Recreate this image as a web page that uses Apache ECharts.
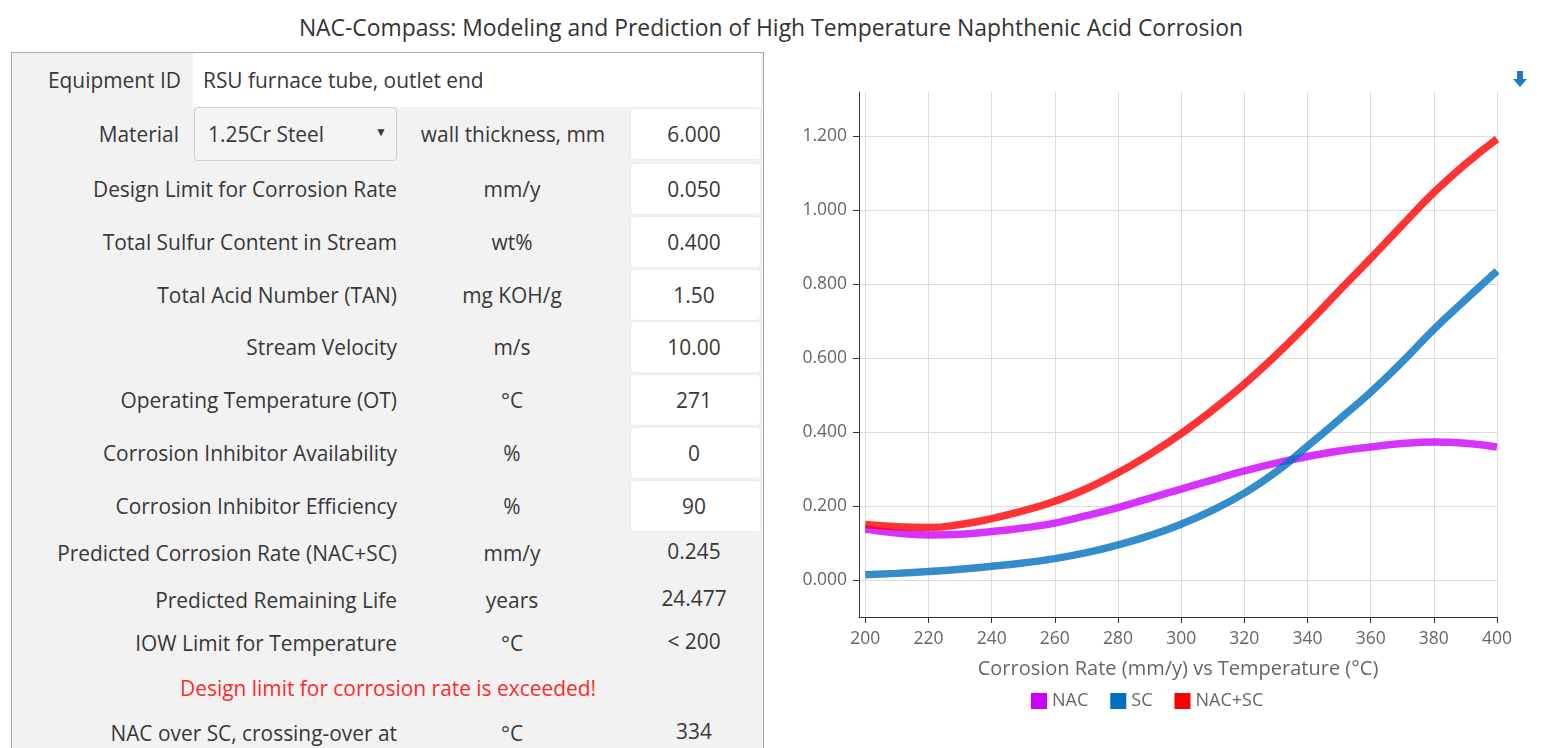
<!DOCTYPE html>
<html>
<head>
<meta charset="utf-8">
<script src="https://cdn.jsdelivr.net/npm/echarts@6/dist/echarts.min.js"></script>
<style>
  html, body { margin:0; padding:0; background:#fff; width:1542px; height:748px; overflow:hidden; }
  body { font-family: "Open Sans", "Noto Sans", sans-serif; color:#333; position:relative; }
  #title { position:absolute; left:0; width:1542px; top:13px; text-align:center; font-size:22.9px; line-height:30px; color:#333; }
  #panel { position:absolute; left:11px; top:52px; width:751px; height:700px; background:#f2f2f2; border:1px solid #a9a9a9; border-bottom:none; }
  .t { position:absolute; font-size:20.9px; white-space:nowrap; line-height:28px; transform:translateY(-50%); color:#383838; }
  .r { transform:translate(-100%,-50%); }
  .c { transform:translate(-50%,-50%); }
  .box { position:absolute; background:#fff; border:1px solid #ececec; border-radius:4px; box-sizing:border-box; }
  .sel { position:absolute; background:#f4f4f4; border:1px solid #cfcfcf; border-radius:4px; box-sizing:border-box; }
  #chart { position:absolute; left:764px; top:52px; width:778px; height:696px; }
</style>
</head>
<body>
<div id="title">NAC-Compass: Modeling and Prediction of High Temperature Naphthenic Acid Corrosion</div>
<div id="panel"></div>
<div id="form"></div>
<div id="chart"></div>
<script>
// ---- chart data ----
const temps = [200,210,220,230,240,250,260,270,280,290,300,310,320,330,340,350,360,370,380,390,400];
const nac   = [0.138,0.127,0.122,0.124,0.131,0.141,0.154,0.174,0.196,0.221,0.246,0.271,0.295,0.316,0.334,0.349,0.360,0.369,0.373,0.370,0.360];
const sc    = [0.014,0.018,0.023,0.029,0.037,0.046,0.058,0.074,0.095,0.120,0.151,0.189,0.235,0.292,0.362,0.434,0.508,0.590,0.678,0.758,0.836];
const nacsc = [0.150,0.144,0.142,0.150,0.166,0.187,0.213,0.247,0.290,0.340,0.396,0.460,0.530,0.608,0.693,0.782,0.870,0.960,1.048,1.125,1.193];
const seriesNames = ['NAC','SC','NAC+SC'];
const xTicks = [200,220,240,260,280,300,320,340,360,380,400];
const yTicks = [0,0.2,0.4,0.6,0.8,1.0,1.2];
const xAxisTitle = 'Corrosion Rate (mm/y) vs Temperature (°C)';

// ---- form content ----
const inputRows = [
  ['Design Limit for Corrosion Rate','mm/y','0.050'],
  ['Total Sulfur Content in Stream','wt%','0.400'],
  ['Total Acid Number (TAN)','mg KOH/g','1.50'],
  ['Stream Velocity','m/s','10.00'],
  ['Operating Temperature (OT)','°C','271'],
  ['Corrosion Inhibitor Availability','%','0'],
  ['Corrosion Inhibitor Efficiency','%','90']
];
const outputRows = [
  ['Predicted Corrosion Rate (NAC+SC)','mm/y','0.245',553],
  ['Predicted Remaining Life','years','24.477',600],
  ['IOW Limit for Temperature','°C','< 200',643],
  ['NAC over SC, crossing-over at','°C','334',733]
];

const form = document.getElementById('form');
function el(cls, x, y, text, style) {
  const d = document.createElement('div');
  d.className = cls;
  d.style.left = x + 'px'; d.style.top = y + 'px';
  if (text !== undefined) d.textContent = text;
  if (style) Object.assign(d.style, style);
  form.appendChild(d);
  return d;
}
// Equipment ID row
el('box', 193, 53, undefined, {width:'568px', height:'54px', border:'none', borderRadius:'0'});
el('t r', 181, 80, 'Equipment ID');
el('t', 203, 80, 'RSU furnace tube, outlet end');
// Material row
el('t r', 179, 134, 'Material');
el('sel', 194, 107, undefined, {width:'203px', height:'54px'});
el('t', 208, 134, '1.25Cr Steel');
el('t c', 381, 132, '▼', {fontSize:'12px'});
el('t c', 513, 134, 'wall thickness, mm');
el('box', 630, 108, undefined, {width:'131px', height:'52px'});
el('t c', 694, 134, '6.000');
// input rows
inputRows.forEach((r, i) => {
  const cy = 189 + i * 52.8;
  el('box', 630, cy - 26, undefined, {width:'131px', height:'52px'});
  el('t r', 397, cy, r[0]);
  el('t c', 512, cy, r[1]);
  el('t c', 694, cy, r[2]);
});
outputRows.forEach(r => {
  el('t r', 397, r[3], r[0]);
  el('t c', 512, r[3], r[1]);
  el('t c', 694, r[3] - 2, r[2]);
});
el('t c', 388, 688, 'Design limit for corrosion rate is exceeded!', {color:'#ff2a2a'});

// ---- chart ----
const chart = echarts.init(document.getElementById('chart'));
const colors = ['#cc00ff','#0070c0','#ff0000'];
const dataSets = [nac, sc, nacsc];
chart.setOption({
  animation: false,
  textStyle: { fontFamily: '"Open Sans", "Noto Sans", sans-serif' },
  grid: { left: 95, right: 45, top: 40, bottom: 131 },
  toolbox: {
    right: 0, top: 4, itemSize: 16,
    feature: { saveAsImage: { title: 'Download', icon: 'path://M4,0 L10,0 L10,8 L14,8 L7,16 L0,8 L4,8 Z' } },
    iconStyle: { color: '#2b78c2', borderColor: '#2b78c2', borderWidth: 0 }
  },
  legend: {
    left: 262, top: 635, itemWidth: 16, itemHeight: 16, itemGap: 22, icon: 'rect',
    textStyle: { fontSize: 18, color: '#666' },
    data: seriesNames
  },
  xAxis: {
    type: 'value', min: 198, max: 400,
    name: xAxisTitle, nameLocation: 'middle', nameGap: 42,
    nameTextStyle: { fontSize: 20, color: '#666' },
    axisLine: { show: true, onZero: false, lineStyle: { color: '#333' } },
    axisTick: { show: true, length: 6, customValues: xTicks, lineStyle: { color: '#333' } },
    axisLabel: { customValues: xTicks, color: '#666', fontSize: 17.5, margin: 13 },
    splitLine: { show: true, lineStyle: { color: '#dcdcdc' } }
  },
  yAxis: {
    type: 'value', min: -0.1, max: 1.32,
    axisLine: { show: true, onZero: false, lineStyle: { color: '#333' } },
    axisTick: { show: true, length: 6, customValues: yTicks, lineStyle: { color: '#333' } },
    axisLabel: { customValues: yTicks, color: '#666', fontSize: 17.5, margin: 12,
                 formatter: v => Number(v).toFixed(3) },
    splitLine: { show: true, lineStyle: { color: '#dcdcdc' } }
  },
  series: seriesNames.map((n, k) => ({
    name: n, type: 'line', smooth: true, showSymbol: false,
    data: temps.map((t, i) => [t, dataSets[k][i]]),
    itemStyle: { color: colors[k] },
    lineStyle: { width: 7.5, opacity: 0.8, color: colors[k] }
  }))
});
</script>
</body>
</html>
